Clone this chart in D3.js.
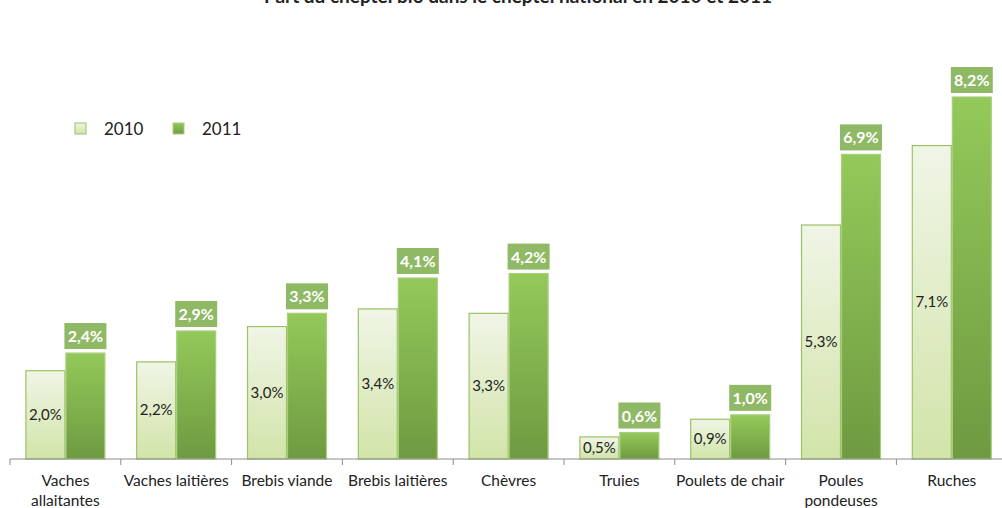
<!DOCTYPE html>
<meta charset="utf-8">
<script src="https://d3js.org/d3.v7.min.js"></script>
<style>
  body { margin: 0; background: #fff; }
  text { font-family: Lato, "Open Sans", sans-serif; }
</style>
<div id="chart"></div>
<script>
  // data
  var categories = ["Vaches allaitantes", "Vaches laitières", "Brebis viande", "Brebis laitières",
    "Chèvres", "Truies", "Poulets de chair", "Poules pondeuses", "Ruches"];
  var catLabels = [["Vaches", "allaitantes"], ["Vaches laitières"], ["Brebis viande"], ["Brebis laitières"],
    ["Chèvres"], ["Truies"], ["Poulets de chair"], ["Poules", "pondeuses"], ["Ruches"]];
  var years = ["2010", "2011"];
  var values2010 = [2.0, 2.2, 3.0, 3.4, 3.3, 0.5, 0.9, 5.3, 7.1];
  var values2011 = [2.4, 2.9, 3.3, 4.1, 4.2, 0.6, 1.0, 6.9, 8.2];

  var W = 1002, H = 508;
  var svg = d3.select("#chart").append("svg")
    .attr("width", W).attr("height", H);

  var defs = svg.append("defs");
  var g1 = defs.append("linearGradient").attr("id", "g2010")
    .attr("x1", 0).attr("y1", 0).attr("x2", 0).attr("y2", 1);
  g1.append("stop").attr("offset", "0%").attr("stop-color", "#f0f5e6");
  g1.append("stop").attr("offset", "100%").attr("stop-color", "#d2e4a9");
  var g2 = defs.append("linearGradient").attr("id", "g2011")
    .attr("x1", 0).attr("y1", 0).attr("x2", 0).attr("y2", 1);
  g2.append("stop").attr("offset", "0%").attr("stop-color", "#93c95a");
  g2.append("stop").attr("offset", "100%").attr("stop-color", "#6f9a41");

  var x0 = d3.scaleBand().domain(categories).range([10, 10 + 9 * 110.8]).padding(0);
  var x1 = d3.scaleBand().domain(years).range([0, x0.bandwidth()])
    .paddingInner(0).paddingOuter(0.385);
  var y = d3.scaleLinear().domain([0, 8.2]).range([459, 97]);

  // title (cut at the top edge, as in the original)
  svg.append("text")
    .attr("x", 518).attr("y", 3)
    .attr("text-anchor", "middle")
    .style("font-weight", "bold").style("font-size", "19px").style("fill", "#222")
    .text("Part du cheptel bio dans le cheptel national en 2010 et 2011");

  var rows = categories.map(function (c, i) {
    return { cat: c, label: catLabels[i], v: [values2010[i], values2011[i]] };
  });

  var groups = svg.append("g").selectAll("g")
    .data(rows).enter().append("g")
    .attr("transform", function (d) { return "translate(" + x0(d.cat) + ",0)"; });

  // 2010 bars
  groups.append("rect")
    .attr("x", x1("2010") + 0.5)
    .attr("y", function (d) { return y(d.v[0]); })
    .attr("width", x1.bandwidth() - 1)
    .attr("height", function (d) { return y(0) - y(d.v[0]); })
    .attr("fill", "url(#g2010)")
    .attr("stroke", "#9bc265").attr("stroke-width", 1.2);

  // 2011 bars
  groups.append("rect")
    .attr("x", x1("2011") + 0.5)
    .attr("y", function (d) { return y(d.v[1]); })
    .attr("width", x1.bandwidth() - 1)
    .attr("height", function (d) { return y(0) - y(d.v[1]); })
    .attr("fill", "url(#g2011)")
    .attr("stroke", "#a9cf7e").attr("stroke-width", 1.2);

  function fmt(v) { return v.toFixed(1).replace(".", ",") + "%"; }

  // 2010 labels inside the bar
  groups.append("text")
    .attr("x", x1("2010") + x1.bandwidth() / 2)
    .attr("y", function (d) { return (y(d.v[0]) + y(0)) / 2 + 5; })
    .attr("text-anchor", "middle")
    .style("font-size", "15px").style("fill", "#222")
    .text(function (d) { return fmt(d.v[0]); });

  // 2011 labels in a green box
  groups.append("rect")
    .attr("x", x1("2011") - 1)
    .attr("y", function (d) { return y(d.v[1]) - 30; })
    .attr("width", x1.bandwidth() + 2)
    .attr("height", 26)
    .attr("fill", "#8fb964");
  groups.append("text")
    .attr("x", x1("2011") + x1.bandwidth() / 2)
    .attr("y", function (d) { return y(d.v[1]) - 11; })
    .attr("text-anchor", "middle")
    .style("font-size", "16px").style("font-weight", "bold").style("fill", "#fff")
    .text(function (d) { return fmt(d.v[1]); });

  // axis
  var axis = svg.append("g").attr("transform", "translate(0," + y(0) + ")");
  axis.append("line").attr("x1", 10).attr("x2", W).attr("stroke", "#8c8c8c");
  axis.selectAll("line.tick")
    .data(d3.range(categories.length + 1)).enter().append("line")
    .attr("class", "tick")
    .attr("x1", function (i) { return 10 + i * x0.step(); })
    .attr("x2", function (i) { return 10 + i * x0.step(); })
    .attr("y1", 0).attr("y2", 6).attr("stroke", "#8c8c8c");

  var lbl = svg.append("g").selectAll("text")
    .data(rows).enter().append("text")
    .attr("x", function (d) { return x0(d.cat) + x0.bandwidth() / 2; })
    .attr("y", 486)
    .attr("text-anchor", "middle")
    .style("font-size", "15.5px").style("fill", "#222");
  lbl.selectAll("tspan")
    .data(function (d) { return d.label; }).enter().append("tspan")
    .attr("x", function () { return d3.select(this.parentNode).attr("x"); })
    .attr("dy", function (d, i) { return i === 0 ? 0 : 20; })
    .text(function (d) { return d; });

  // legend
  var legend = svg.append("g");
  var legX = [75, 173];
  years.forEach(function (yr, i) {
    legend.append("rect")
      .attr("x", legX[i]).attr("y", 123).attr("width", 11).attr("height", 11)
      .attr("fill", "url(#g" + yr + ")")
      .attr("stroke", i === 0 ? "#9bc265" : "#a9cf7e");
    legend.append("text")
      .attr("x", legX[i] + 29).attr("y", 135)
      .style("font-size", "17px").style("fill", "#222")
      .text(yr);
  });
</script>
